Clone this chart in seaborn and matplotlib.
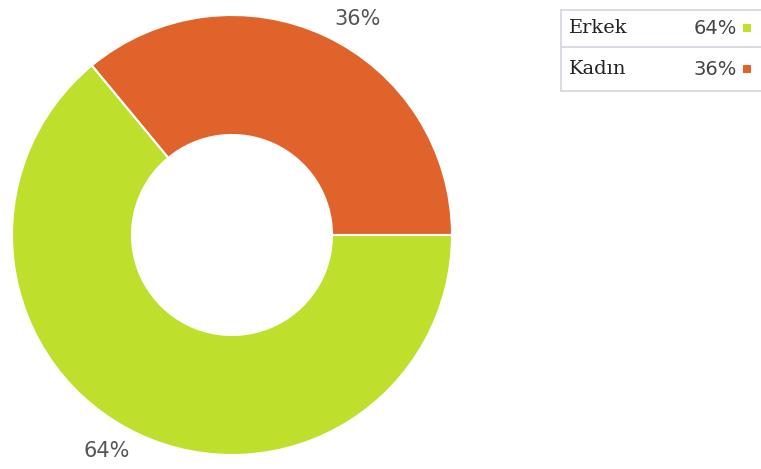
import matplotlib
matplotlib.use("Agg")
import matplotlib.pyplot as plt
import seaborn as sns
import numpy as np
from matplotlib.patches import Rectangle

sns.set_theme(style="white")
plt.rcParams['font.family'] = ['DejaVu Sans']

categories = ["Kadın", "Erkek"]
values = [36, 64]
labels = ["36%", "64%"]
colors = ["#E0632B", "#BEDF2B"]
legend_order = ["Erkek", "Kadın"]

W, H = 761, 469
fig = plt.figure(figsize=(W / 100, H / 100), dpi=100)
fig.patch.set_facecolor("white")
ax = fig.add_axes([0, 0, 1, 1])

cx, cy, R = 232, H - 235, 220
wedges, texts = ax.pie(
    values, colors=colors, labels=labels, startangle=0, counterclock=True,
    radius=R, center=(cx, cy), labeldistance=1.13,
    wedgeprops=dict(width=120, edgecolor="white", linewidth=1.5),
    textprops=dict(fontsize=15, color="#555555"),
)
for w, t in zip(wedges, texts):
    ang = np.deg2rad((w.theta1 + w.theta2) / 2 - 5)
    d = R * 1.135
    t.set_position((cx + d * np.cos(ang), cy + d * np.sin(ang)))
    t.set_ha("center")
    t.set_va("center")
ax.set_xlim(0, W)
ax.set_ylim(0, H)
ax.set_aspect("equal")
ax.axis("off")

# legend table (pixel coordinates from top-left)
def fy(y):
    return H - y

line_c = "#D3D6E0"
top, mid, bot, left = 10, 47, 91, 561
ax.plot([left, W + 5], [fy(top)] * 2, color=line_c, lw=1.2)
ax.plot([left, W + 5], [fy(mid)] * 2, color=line_c, lw=1.2)
ax.plot([left, W + 5], [fy(bot)] * 2, color=line_c, lw=1.2)
ax.plot([left, left], [fy(top), fy(bot)], color=line_c, lw=1.2)

val_map = dict(zip(categories, values))
col_map = dict(zip(categories, colors))
for i, name in enumerate(legend_order):
    yc = 28 + i * 41
    ax.text(569, fy(yc), name, family="DejaVu Serif", fontsize=14,
            color="#222222", ha="left", va="center")
    ax.text(737, fy(yc), f"{val_map[name]}%", fontsize=14,
            color="#444444", ha="right", va="center")
    ax.add_patch(Rectangle((743, fy(yc + 4)), 8, 8, color=col_map[name], lw=0))

fig.savefig("out.png", dpi=100, facecolor="white")
